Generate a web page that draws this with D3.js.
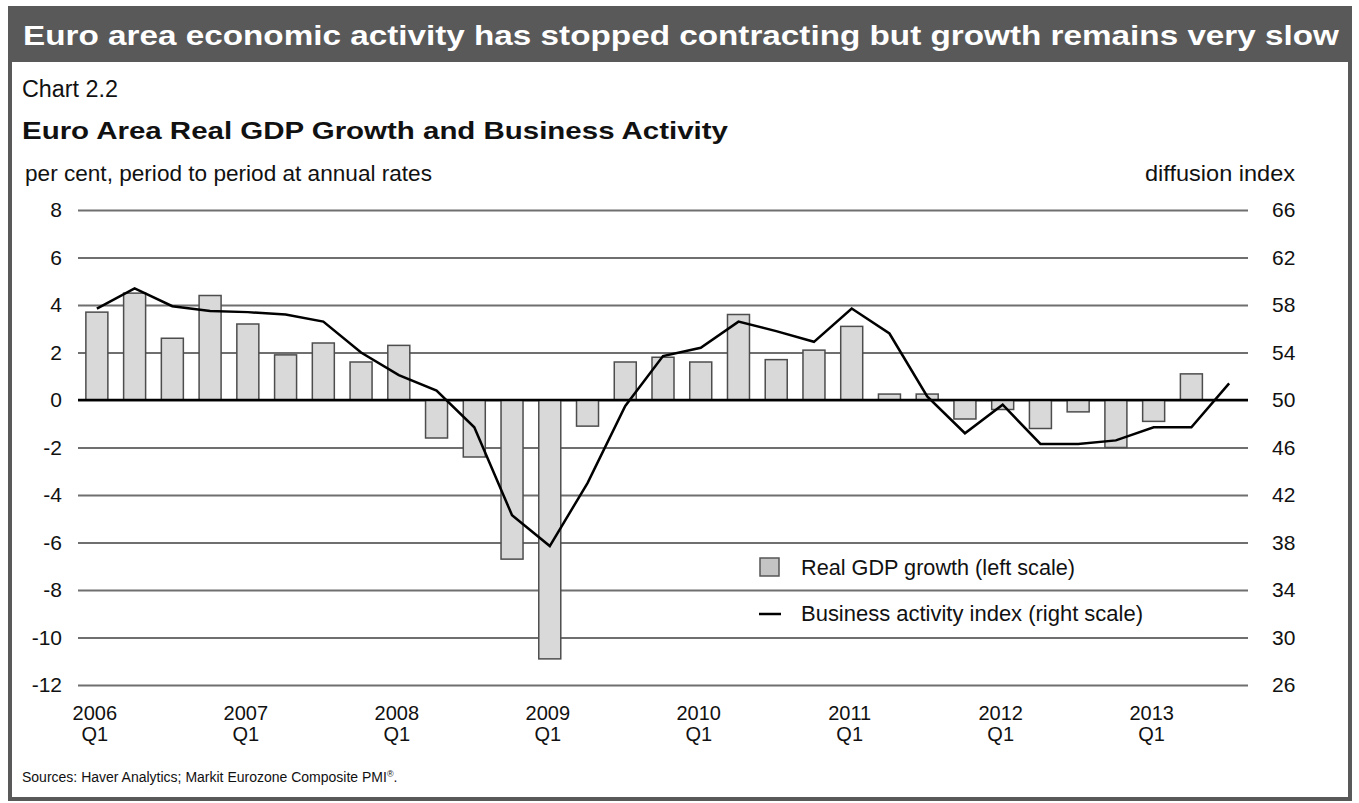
<!DOCTYPE html>
<html><head><meta charset="utf-8">
<script src="https://cdn.jsdelivr.net/npm/d3@7"></script>
<style>
body{margin:0;background:#fff}
svg{display:block}
text{font-family:"Liberation Sans",Arial,Helvetica,sans-serif;fill:#111}
</style>
</head><body>
<svg id="c" width="1359" height="803"></svg>
<script>
// ---------- DATA ----------
const quarters = [
  "2006 Q1","2006 Q2","2006 Q3","2006 Q4",
  "2007 Q1","2007 Q2","2007 Q3","2007 Q4",
  "2008 Q1","2008 Q2","2008 Q3","2008 Q4",
  "2009 Q1","2009 Q2","2009 Q3","2009 Q4",
  "2010 Q1","2010 Q2","2010 Q3","2010 Q4",
  "2011 Q1","2011 Q2","2011 Q3","2011 Q4",
  "2012 Q1","2012 Q2","2012 Q3","2012 Q4",
  "2013 Q1","2013 Q2","2013 Q3"
];
// Real GDP growth, per cent (left scale), 2006Q1 - 2013Q2
const gdpGrowth = [3.7,4.5,2.6,4.4, 3.2,1.9,2.4,1.6, 2.3,-1.6,-2.4,-6.7,
  -10.9,-1.1,1.6,1.8, 1.6,3.6,1.7,2.1, 3.1,0.25,0.25,-0.8,
  -0.4,-1.2,-0.5,-2.0, -0.9,1.1];
// Business activity index (right scale), 2006Q1 - 2013Q3
const businessIndex = [57.7,59.4,57.9,57.5, 57.4,57.2,56.6,54.0, 52.1,50.8,47.7,40.3,
  37.7,43.0,49.5,53.7, 54.4,56.6,55.8,54.9, 57.7,55.6,50.3,47.2,
  49.6,46.3,46.3,46.6, 47.7,47.7,51.4];
const leftTicks = [-12,-10,-8,-6,-4,-2,0,2,4,6,8];
const rightTicks = [26,30,34,38,42,46,50,54,58,62,66];
const yearLabels = ["2006","2007","2008","2009","2010","2011","2012","2013"];
const yearQuarter = ["2006 Q1","2007 Q1","2008 Q1","2009 Q1","2010 Q1","2011 Q1","2012 Q1","2013 Q1"];

const titleText = "Euro area economic activity has stopped contracting but growth remains very slow";
const chartNo = "Chart 2.2";
const subTitle = "Euro Area Real GDP Growth and Business Activity";
const leftUnit = "per cent, period to period at annual rates";
const rightUnit = "diffusion index";
const legendItems = ["Real GDP growth (left scale)","Business activity index (right scale)"];
const sourceText = "Sources: Haver Analytics; Markit Eurozone Composite PMI";

// ---------- LAYOUT ----------
const svg = d3.select("#c");
const X0 = 78, X1 = 1248, YT = 210, YB = 685;

function fit(sel, w){ sel.attr("textLength", w).attr("lengthAdjust","spacingAndGlyphs"); }

// frame + title bar
svg.append("rect").attr("x",10).attr("y",8).attr("width",1340).attr("height",791)
  .attr("fill","#fff").attr("stroke","#595959").attr("stroke-width",4);
svg.append("rect").attr("x",8).attr("y",6).attr("width",1344).attr("height",56).attr("fill","#595959");
svg.append("text").attr("x",23).attr("y",45).text(titleText)
  .style("font-size","27px").style("font-weight","bold").style("fill","#fff").call(fit,1316);

svg.append("text").attr("x",22).attr("y",97).text(chartNo).style("font-size","23px").call(fit,96);
svg.append("text").attr("x",22).attr("y",139).text(subTitle)
  .style("font-size","24px").style("font-weight","bold").call(fit,706);
svg.append("text").attr("x",25).attr("y",181).text(leftUnit).style("font-size","21.5px").call(fit,407);
svg.append("text").attr("x",1295).attr("y",181).attr("text-anchor","end").text(rightUnit)
  .style("font-size","21.5px").call(fit,150);

// scales
const x = d3.scalePoint().domain(quarters).range([X0, X1]).padding(0.5);
const yL = d3.scaleLinear().domain([-12, 8]).range([YB, YT]);
const yR = d3.scaleLinear().domain([26, 66]).range([YB, YT]);

// left axis with gridlines
const gL = svg.append("g").attr("transform",`translate(${X0},0)`)
  .call(d3.axisLeft(yL).tickValues(leftTicks).tickSize(-(X1-X0)).tickPadding(16).tickFormat(d=>String(d)));
gL.select(".domain").remove();
gL.selectAll(".tick line").attr("stroke","#6f6f6f").attr("stroke-width",2);
gL.selectAll(".tick text").style("font-size","21px").attr("fill","#111");

// right axis labels
const gR = svg.append("g").attr("transform",`translate(${X1},0)`)
  .call(d3.axisRight(yR).tickValues(rightTicks).tickSize(0).tickPadding(24).tickFormat(d=>String(d)));
gR.select(".domain").remove();
gR.selectAll(".tick text").style("font-size","21px").attr("fill","#111");

// bars
const BW = 22;
svg.append("g").selectAll("rect").data(gdpGrowth).join("rect")
  .attr("x",(d,i)=>x(quarters[i]) - BW/2)
  .attr("width",BW)
  .attr("y",d=>yL(Math.max(0,d)))
  .attr("height",d=>Math.abs(yL(d)-yL(0)))
  .attr("fill","#d9d9d9").attr("stroke","#4d4d4d").attr("stroke-width",1.5);

// zero line
svg.append("line").attr("x1",X0).attr("x2",X1).attr("y1",yL(0)).attr("y2",yL(0))
  .attr("stroke","#000").attr("stroke-width",2.5);

// business activity line
svg.append("path").datum(businessIndex)
  .attr("d", d3.line().x((d,i)=>x(quarters[i])).y(d=>yR(d)))
  .attr("fill","none").attr("stroke","#000").attr("stroke-width",2.5).attr("stroke-linejoin","miter");

// x labels
const xl = svg.append("g");
yearLabels.forEach((yr,i)=>{
  const cx = x(yearQuarter[i]) - 2;
  xl.append("text").attr("x",cx).attr("y",720).attr("text-anchor","middle").text(yr).style("font-size","20px");
  xl.append("text").attr("x",cx).attr("y",741).attr("text-anchor","middle").text("Q1").style("font-size","20px");
});

// legend
const lg = svg.append("g");
lg.append("rect").attr("x",760).attr("y",558).attr("width",19).attr("height",18)
  .attr("fill","#c4c4c4").attr("stroke","#555").attr("stroke-width",1.5);
lg.append("text").attr("x",801).attr("y",575).text(legendItems[0]).style("font-size","21.5px").call(fit,274);
lg.append("line").attr("x1",759).attr("x2",781).attr("y1",614).attr("y2",614).attr("stroke","#000").attr("stroke-width",2.5);
lg.append("text").attr("x",801).attr("y",621).text(legendItems[1]).style("font-size","21.5px").call(fit,342);

// sources
const st = svg.append("text").attr("x",22).attr("y",782).style("font-size","14px");
st.append("tspan").text(sourceText);
st.append("tspan").text("®").style("font-size","9px").attr("dy",-5);
st.append("tspan").text(".").attr("dy",5);
</script>
</body></html>
